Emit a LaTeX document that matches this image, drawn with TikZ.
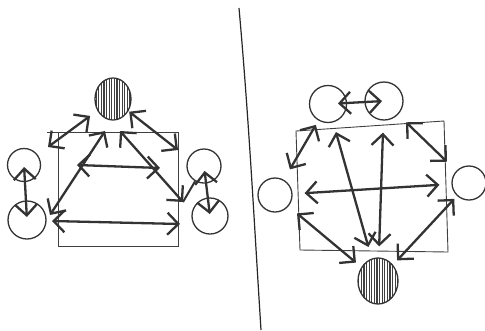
\documentclass[tikz,border=0pt]{standalone}
\usepackage{tikz}
\usetikzlibrary{arrows.meta,patterns.meta,shapes.geometric}

\tikzset{
	ring/.style={circle, draw=black!80, line width=1.3pt, inner sep=0pt},
	hatched/.style={ellipse, draw=black!80, line width=1.3pt, inner sep=0pt,
		pattern={Lines[angle=90,distance=2.6pt,line width=1.2pt]}, pattern color=black!75},
	link/.style={<->, line width=2.3pt, draw=black!80},
	frame/.style={draw=black!75, line width=0.9pt}
}

\begin{document}
\begin{tikzpicture}[x=1pt, y=-1pt, >={Straight Barb[length=11pt,width=22pt]}]
	\useasboundingbox (0,0) rectangle (485,330);
	% Đường phân cách hai hình
	\draw[line width=1.2pt, black!85] (239,8) .. controls (249,120) and (254,220) .. (261,330);
	% Hình trái: các vòng tròn
	\node[hatched, minimum width=36pt, minimum height=42pt] (hL) at (113,99) {};
	\node[ring, minimum size=33pt] (la) at (24,165) {};
	\node[ring, minimum size=38pt] (lb) at (27,220) {};
	\node[ring, minimum size=34pt] (ra) at (204,166) {};
	\node[ring, minimum size=36pt] (rb) at (210,216) {};
	% Khung chữ nhật trái
	\draw[frame] (47,132) -- (178,132) -- (178,246) -- (58,246) -- (58,132);
	% Các điểm mốc
	\coordinate (tl) at (48,147);
	\coordinate (tr) at (178,150);
	\coordinate (apl) at (105,131);
	\coordinate (apr) at (120,131);
	\coordinate (bl) at (50,215);
	\coordinate (br) at (183,202);
	\coordinate (ml) at (77,165);
	\coordinate (mr) at (160,168);
	\coordinate (fl) at (52,221);
	\coordinate (fr) at (180,224);
	% Các mũi tên hình trái
	\draw[link, shorten >=9pt] (tl) -- (hL);
	\draw[link, shorten <=1pt] (hL) -- (tr);
	\draw[link] (apl) -- (bl);
	\draw[link] (apr) -- (br);
	\draw[link] (ml) -- (mr);
	\draw[link] (fl) -- (fr);
	\draw[line width=2pt, black!80] (br) -- (ra);
	\draw[link, shorten <=2pt, shorten >=3pt] (la.center) -- (lb.center);
	\draw[link, shorten <=5pt, shorten >=2pt] (ra.center) -- (rb.center);
	% Hình phải: các vòng tròn
	\node[ring, minimum size=37pt] (ta) at (328,104) {};
	\node[ring, minimum size=38pt] (tb) at (384,101) {};
	\node[ring, minimum size=34pt] (w) at (275,195) {};
	\node[ring, minimum size=34pt] (e) at (469,183) {};
	\node[hatched, minimum width=40pt, minimum height=46pt] (hR) at (378,281) {};
	% Khung chữ nhật phải
	\draw[frame] (296,131) -- (444,121) -- (448,252) -- (300,250) -- cycle;
	% Các mũi tên hình phải
	\draw[link, shorten <=10pt, shorten >=2pt] (ta.center) -- (tb.center);
	\draw[link, shorten <=12pt, shorten >=5pt] (w) -- (ta);
	\draw[link, shorten <=11pt, shorten >=13pt] (tb) -- (e);
	\draw[link, shorten <=12pt, shorten >=12pt] (w) -- (e);
	\draw[link, shorten <=12pt, shorten >=10pt] (hR) -- (ta);
	\draw[link, shorten <=11pt, shorten >=12pt] (hR) -- (tb);
	\draw[link, shorten <=11pt, shorten >=7pt] (w) -- (hR);
	\draw[link, shorten <=6pt, shorten >=4pt] (hR) -- (e);
\end{tikzpicture}
\end{document}
